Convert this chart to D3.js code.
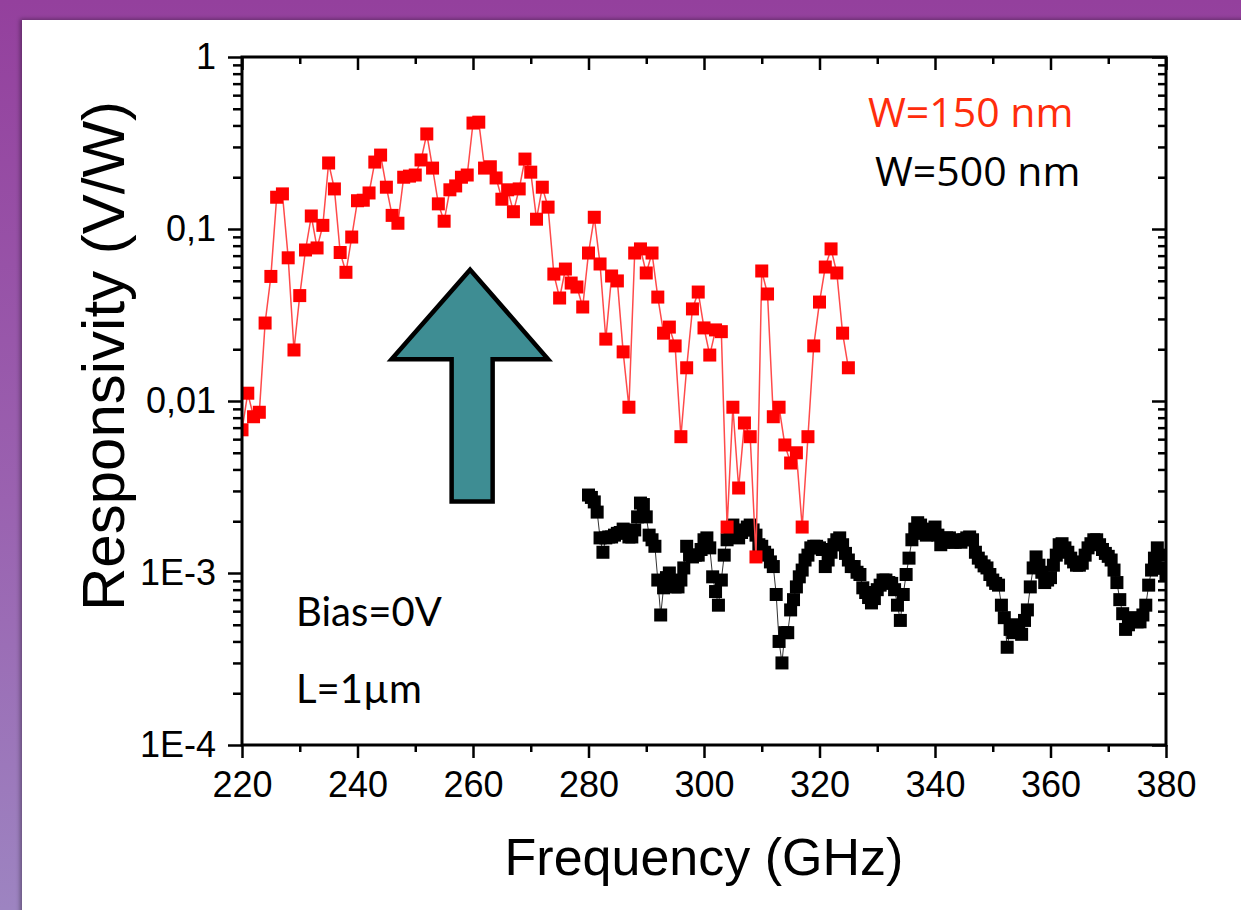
<!DOCTYPE html>
<html lang="en">
<head>
<meta charset="UTF-8"/>
<title>Responsivity vs Frequency</title>
<script src="https://d3js.org/d3.v7.min.js"></script>
<style>
  body { margin: 0; background: #fff; }
  svg { display: block; }
</style>
</head>
<body>
<div id="chart"></div>
<script>
// ---- data ----
// W=150 nm, one point per GHz from 220 GHz
var redStart = 220, redStep = 1;
var redValues = [
  0.0068, 0.0111, 0.0081, 0.0086, 0.0284, 0.053, 0.153, 0.160, 0.068, 0.0198,
  0.041, 0.0755, 0.119, 0.0776, 0.105, 0.242, 0.171, 0.073, 0.056, 0.0898,
  0.146, 0.147, 0.162, 0.245, 0.269, 0.175, 0.12, 0.108, 0.2, 0.203,
  0.206, 0.252, 0.357, 0.226, 0.14, 0.111, 0.169, 0.178, 0.2, 0.206,
  0.413, 0.418, 0.226, 0.23, 0.198, 0.149, 0.169, 0.126, 0.171, 0.255,
  0.214, 0.114, 0.175, 0.134, 0.0547, 0.0397, 0.0585, 0.0485, 0.046, 0.0352,
  0.0725, 0.117, 0.0626, 0.0229, 0.0533, 0.0499, 0.0193, 0.0092, 0.0725, 0.0766,
  0.0555, 0.0725, 0.0402, 0.0248, 0.0269, 0.0209, 0.0062, 0.0156, 0.0343, 0.043,
  0.0266, 0.0185, 0.0259, 0.0253, 0.00185, 0.0092, 0.00312, 0.00745, 0.0062, 0.00124,
  0.057, 0.0419, 0.0081, 0.0092, 0.00555, 0.00436, 0.005, 0.00185, 0.0062, 0.0209,
  0.0376, 0.0601, 0.0766, 0.0555, 0.0248, 0.0156
];

// W=500 nm, one point per 0.5 GHz from 280 GHz
var blackStart = 280, blackStep = 0.5;
var blackValues = [
  0.00284, 0.00275, 0.00259, 0.00226, 0.0016, 0.00132, 0.0016, 0.00162, 0.00162, 0.00166,
  0.0017, 0.00172, 0.0018, 0.00172, 0.00162, 0.00162, 0.00178, 0.00212, 0.00255, 0.0025,
  0.00212, 0.00166, 0.00156, 0.00143, 0.00091, 0.00057, 0.00082, 0.00094, 0.001, 0.00088,
  0.00083, 0.00083, 0.00091, 0.00107, 0.00143, 0.00127, 0.00124, 0.00127, 0.00127, 0.00137,
  0.00156, 0.0016, 0.0014, 0.00095, 0.00078, 0.00065, 0.00091, 0.00127, 0.00156, 0.0018,
  0.0019, 0.00172, 0.0016, 0.00172, 0.00178, 0.00185, 0.0019, 0.00178, 0.00166, 0.00146,
  0.00143, 0.00132, 0.00127, 0.00116, 0.00109, 0.00075, 0.0004, 0.0003, 0.00045, 0.00045,
  0.00061, 0.0007, 0.00083, 0.00095, 0.00104, 0.00119, 0.00127, 0.0014, 0.00143, 0.00143,
  0.0014, 0.00137, 0.00109, 0.00119, 0.00132, 0.00146, 0.00156, 0.0016, 0.00146, 0.0013,
  0.00119, 0.00109, 0.00109, 0.00101, 0.00098, 0.00082, 0.00077, 0.00072, 0.00067, 0.00071,
  0.0008, 0.00085, 0.00091, 0.00091, 0.00088, 0.00087, 0.0008, 0.00065, 0.00053, 0.00075,
  0.00098, 0.00122, 0.00156, 0.0018, 0.00196, 0.0019, 0.0017, 0.00166, 0.0017, 0.0018,
  0.00185, 0.00166, 0.00146, 0.00151, 0.0016, 0.0016, 0.00151, 0.00151, 0.00156, 0.00151,
  0.00156, 0.0016, 0.00162, 0.00156, 0.00132, 0.00122, 0.00116, 0.0011, 0.00107, 0.00098,
  0.00091, 0.00087, 0.00085, 0.00065, 0.00055, 0.00037, 0.00047, 0.00045, 0.0005, 0.00048,
  0.00044, 0.00053, 0.00061, 0.00083, 0.00107, 0.00124, 0.00111, 0.00101, 0.00088, 0.00091,
  0.00094, 0.00111, 0.00127, 0.00146, 0.00148, 0.0014, 0.00132, 0.00122, 0.00116, 0.00111,
  0.00111, 0.00114, 0.00127, 0.0014, 0.00148, 0.00156, 0.00156, 0.00146, 0.00137, 0.0013,
  0.00125, 0.00119, 0.00104, 0.00088, 0.0007, 0.00058, 0.00047, 0.0005, 0.00055, 0.00053,
  0.00052, 0.00052, 0.00057, 0.00065, 0.00085, 0.00104, 0.00122, 0.0014, 0.00127, 0.00107,
  0.00098
];

// axis ticks
var xTicks = [220, 240, 260, 280, 300, 320, 340, 360, 380];
var xMinorTicks = [230, 250, 270, 290, 310, 330, 350, 370];
var yTicks = [1e-4, 1e-3, 1e-2, 1e-1, 1];
var yTickLabels = ["1E-4", "1E-3", "0,01", "0,1", "1"];

// annotation arrow, in data units (GHz, V/W)
var arrowTip = [259.5, 0.058];
var arrowWing = { left: 245.9, right: 273.0, level: 0.0175 };
var arrowShaft = { left: 256.3, right: 263.4, bottom: 0.0026 };

// ---- layout ----
var width = 1241, height = 910;
var plot = { left: 242, right: 1166, top: 57, bottom: 745 };

var svg = d3.select("#chart").append("svg")
  .attr("width", width)
  .attr("height", height);

var defs = svg.append("defs");

// purple slide background
var bgGrad = defs.append("linearGradient")
  .attr("id", "bgGrad")
  .attr("x1", 0).attr("y1", 0).attr("x2", 0).attr("y2", 1);
bgGrad.append("stop").attr("offset", "0%").attr("stop-color", "#94409d");
bgGrad.append("stop").attr("offset", "55%").attr("stop-color", "#9a62b0");
bgGrad.append("stop").attr("offset", "100%").attr("stop-color", "#9d84c1");

var shadow = defs.append("filter").attr("id", "shadow")
  .attr("x", "-5%").attr("y", "-5%").attr("width", "110%").attr("height", "110%");
shadow.append("feDropShadow")
  .attr("dx", -2).attr("dy", -1).attr("stdDeviation", 2)
  .attr("flood-color", "#000").attr("flood-opacity", 0.35);

defs.append("clipPath").attr("id", "plotClip")
  .append("rect")
  .attr("x", plot.left).attr("y", plot.top)
  .attr("width", plot.right - plot.left)
  .attr("height", plot.bottom - plot.top);

svg.append("rect")
  .attr("width", width).attr("height", height)
  .attr("fill", "url(#bgGrad)");

svg.append("rect")
  .attr("x", 22).attr("y", 20)
  .attr("width", width - 22 + 10).attr("height", height - 20 + 10)
  .attr("fill", "#fff")
  .attr("filter", "url(#shadow)");

// ---- scales ----
var x = d3.scaleLinear().domain([220, 380]).range([plot.left, plot.right]);
var y = d3.scaleLog().domain([1e-4, 1]).range([plot.bottom, plot.top]);

var redData = redValues.map(function(v, i) { return { f: redStart + i * redStep, v: v }; });
var blackData = blackValues.map(function(v, i) { return { f: blackStart + i * blackStep, v: v }; });

// minor log ticks 2..9 per decade
var yMinorTicks = [];
yTicks.slice(0, -1).forEach(function(d) {
  for (var k = 2; k <= 9; k++) yMinorTicks.push(k * d);
});

// ---- arrow annotation ----
var arrowPts = [
  [x(arrowTip[0]), y(arrowTip[1])],
  [x(arrowWing.right), y(arrowWing.level)],
  [x(arrowShaft.right), y(arrowWing.level)],
  [x(arrowShaft.right), y(arrowShaft.bottom)],
  [x(arrowShaft.left), y(arrowShaft.bottom)],
  [x(arrowShaft.left), y(arrowWing.level)],
  [x(arrowWing.left), y(arrowWing.level)]
];
svg.append("path")
  .attr("d", "M" + arrowPts.join("L") + "Z")
  .attr("fill", "#3e8d93")
  .attr("stroke", "#000")
  .attr("stroke-width", 4.5)
  .attr("stroke-linejoin", "miter");

// ---- series ----
var line = d3.line()
  .x(function(d) { return x(d.f); })
  .y(function(d) { return y(d.v); });

var series = svg.append("g").attr("clip-path", "url(#plotClip)");
var mk = 13;

series.append("path")
  .datum(blackData)
  .attr("d", line)
  .attr("fill", "none")
  .attr("stroke", "#333")
  .attr("stroke-width", 1);

series.selectAll("rect.black")
  .data(blackData)
  .enter()
  .append("rect")
  .attr("class", "black")
  .attr("x", function(d) { return x(d.f) - mk / 2; })
  .attr("y", function(d) { return y(d.v) - mk / 2; })
  .attr("width", mk).attr("height", mk)
  .attr("fill", "#000");

series.append("path")
  .datum(redData)
  .attr("d", line)
  .attr("fill", "none")
  .attr("stroke", "#ff4a4a")
  .attr("stroke-width", 1.5);

series.selectAll("rect.red")
  .data(redData)
  .enter()
  .append("rect")
  .attr("class", "red")
  .attr("x", function(d) { return x(d.f) - mk / 2; })
  .attr("y", function(d) { return y(d.v) - mk / 2; })
  .attr("width", mk).attr("height", mk)
  .attr("fill", "#ff0000");

// ---- axes ----
function styleAxis(g) {
  g.select(".domain").remove();
  g.selectAll(".tick line").attr("stroke", "#000").attr("stroke-width", 2.5);
  g.selectAll("text")
    .attr("fill", "#000")
    .style("font-family", "'Liberation Sans', Arial, sans-serif")
    .style("font-size", "36px");
}

// bottom, outward
svg.append("g")
  .attr("transform", "translate(0," + plot.bottom + ")")
  .call(d3.axisBottom(x).tickValues(xTicks).tickSize(13).tickPadding(13).tickFormat(d3.format("d")))
  .call(styleAxis);
svg.append("g")
  .attr("transform", "translate(0," + plot.bottom + ")")
  .call(d3.axisBottom(x).tickValues(xMinorTicks).tickSize(7).tickFormat(""))
  .call(styleAxis);

// top, inward
svg.append("g")
  .attr("transform", "translate(0," + plot.top + ")")
  .call(d3.axisTop(x).tickValues(xTicks).tickSize(-13).tickFormat(""))
  .call(styleAxis);
svg.append("g")
  .attr("transform", "translate(0," + plot.top + ")")
  .call(d3.axisTop(x).tickValues(xMinorTicks).tickSize(-7).tickFormat(""))
  .call(styleAxis);

// left, outward
svg.append("g")
  .attr("transform", "translate(" + plot.left + ",0)")
  .call(d3.axisLeft(y).tickValues(yTicks).tickSize(14).tickPadding(12)
    .tickFormat(function(d, i) { return yTickLabels[i]; }))
  .call(styleAxis);
svg.append("g")
  .attr("transform", "translate(" + plot.left + ",0)")
  .call(d3.axisLeft(y).tickValues(yMinorTicks).tickSize(9).tickFormat(""))
  .call(styleAxis);

// right, inward
svg.append("g")
  .attr("transform", "translate(" + plot.right + ",0)")
  .call(d3.axisRight(y).tickValues(yTicks).tickSize(-14).tickFormat(""))
  .call(styleAxis);
svg.append("g")
  .attr("transform", "translate(" + plot.right + ",0)")
  .call(d3.axisRight(y).tickValues(yMinorTicks).tickSize(-8).tickFormat(""))
  .call(styleAxis);

// frame
svg.append("rect")
  .attr("x", plot.left).attr("y", plot.top)
  .attr("width", plot.right - plot.left)
  .attr("height", plot.bottom - plot.top)
  .attr("fill", "none")
  .attr("stroke", "#000")
  .attr("stroke-width", 3);

// ---- axis titles ----
svg.append("text")
  .attr("x", (plot.left + plot.right) / 2)
  .attr("y", 875)
  .attr("text-anchor", "middle")
  .style("font-family", "'Liberation Sans', Arial, sans-serif")
  .style("font-size", "52px")
  .text("Frequency (GHz)");

svg.append("text")
  .attr("transform", "translate(124," + 356 + ") rotate(-90)")
  .attr("text-anchor", "middle")
  .style("font-family", "'Liberation Sans', Arial, sans-serif")
  .style("font-size", "60px")
  .text("Responsivity (V/W)");

// ---- legend / notes ----
svg.append("text")
  .attr("x", 868).attr("y", 127)
  .attr("fill", "#ff2d0c")
  .style("font-family", "'Open Sans', sans-serif")
  .style("font-size", "41px")
  .text("W=150 nm");

svg.append("text")
  .attr("x", 875).attr("y", 186)
  .attr("fill", "#000")
  .style("font-family", "'Open Sans', sans-serif")
  .style("font-size", "41px")
  .text("W=500 nm");

svg.append("text")
  .attr("x", 296).attr("y", 626)
  .style("font-family", "Lato, sans-serif")
  .style("font-size", "40px")
  .text("Bias=0V");

svg.append("text")
  .attr("x", 296).attr("y", 703)
  .style("font-family", "Lato, sans-serif")
  .style("font-size", "40px")
  .text("L=1µm");
</script>
</body>
</html>
